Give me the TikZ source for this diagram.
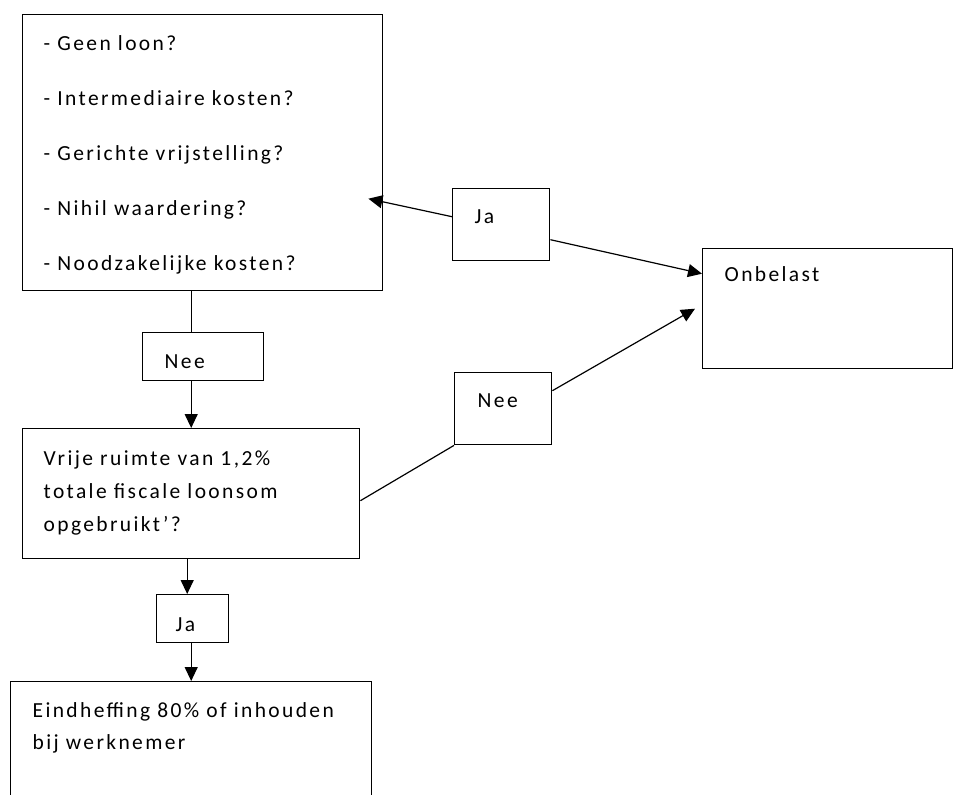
\documentclass[tikz,border=0pt]{standalone}
\usepackage{fontspec}
\setmainfont{Carlito}[LetterSpace=11]
\usetikzlibrary{arrows.meta,positioning}

\begin{document}
\begin{tikzpicture}[
  x=1pt,y=-1pt,
  box/.style={draw,line width=1.4pt,anchor=north west,inner ysep=0pt,
              align=left,font=\fontsize{21.5}{32}\selectfont},
  arr/.style={-{Triangle[length=14pt,width=13pt]},line width=1.2pt},
  lnk/.style={line width=1.2pt}
]
\useasboundingbox (0,0) rectangle (957,794);
\node[box,inner xsep=21pt,text width=318pt,text height=36pt,text depth=240pt,
      font=\fontsize{21.5}{55}\selectfont] (vragen) at (22,14)
  {- Geen loon?\\- Intermediaire kosten?\\- Gerichte vrijstelling?\\
   - Nihil waardering?\\- Noodzakelijke kosten?};
\node[box,inner xsep=22pt,text width=53pt,text height=35pt,text depth=37pt]
  (ja1) at (452,188) {Ja};
\node[box,inner xsep=22pt,text width=206pt,text height=33pt,text depth=87pt]
  (onb) at (702,248) {Onbelast};
\node[box,inner xsep=22pt,text width=77pt,text height=36pt,text depth=12pt]
  (nee1) at (142,332) {Nee};
\node[box,inner xsep=23pt,text width=51pt,text height=35pt,text depth=37pt]
  (nee2) at (454,372) {Nee};
\node[box,inner xsep=21pt,text width=295pt,text height=37pt,text depth=93pt,
      font=\fontsize{21.5}{33}\selectfont] (vrij) at (22,428)
  {Vrije ruimte van 1,2\%\\totale fiscale loonsom\\opgebruikt'?};
\node[box,inner xsep=19pt,text width=34pt,text height=37pt,text depth=11pt]
  (ja2) at (156,594) {Ja};
\node[box,inner xsep=22pt,text width=317pt,text height=36pt,text depth=94pt]
  (eind) at (10,681) {Eindheffing~80\%~of~inhouden\\bij werknemer};
% verbindingen
\draw[lnk] (vragen.south -| vrij.north) -- (vrij.north |- nee1.north);
\draw[arr] (vrij.north |- nee1.south) -- (vrij.north);
\draw[arr] ([xshift=-4pt]vrij.south) -- ([xshift=-4pt]vrij.south |- ja2.north);
\draw[arr] (ja2.south -| eind.north) -- (eind.north);
\draw[lnk] ([yshift=-7pt]vrij.east) -- (nee2.south west);
\draw[arr] ([yshift=18pt]nee2.east) -- ([xshift=-7pt]onb.west);
\draw[arr] ([yshift=-15pt]ja1.east) -- ([yshift=35pt]onb.west);
\draw[arr] ([yshift=8pt]ja1.west) -- ([xshift=-15pt,yshift=-46pt]vragen.east);
\end{tikzpicture}
\end{document}
